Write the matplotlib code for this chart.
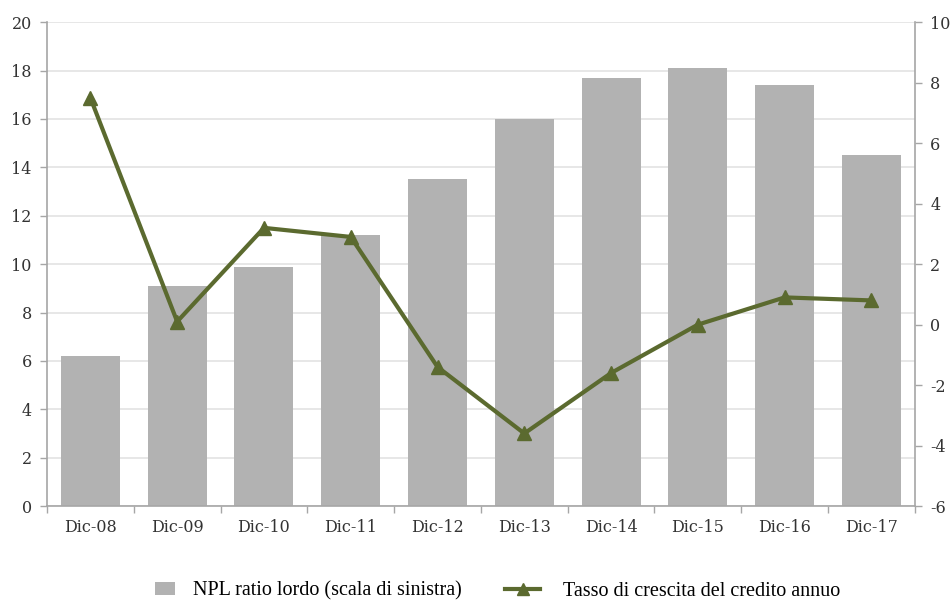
import numpy as np
import matplotlib.pyplot as plt
from matplotlib.lines import Line2D
from matplotlib.patches import Patch

plt.rcParams['axes.unicode_minus'] = False

years = ['Dic-08', 'Dic-09', 'Dic-10', 'Dic-11', 'Dic-12',
         'Dic-13', 'Dic-14', 'Dic-15', 'Dic-16', 'Dic-17']
npl_ratio = [6.2, 9.1, 9.9, 11.2, 13.5, 16.0, 17.7, 18.1, 17.4, 14.5]
credit_growth = [7.5, 0.1, 3.2, 2.9, -1.4, -3.6, -1.6, 0.0, 0.9, 0.8]

bar_color = '#b2b2b2'
line_color = '#5b6a2f'
axis_color = '#a6a6a6'
text_color = '#333333'
tick_font = 'DejaVu Serif'

fig = plt.figure(figsize=(9.51, 6.01), dpi=100)
ax = fig.add_axes([0.0494, 0.158, 0.9126, 0.805])
x = np.arange(len(years))

ax.bar(x, npl_ratio, width=0.68, color=bar_color, zorder=2)
ax.set_xlim(-0.5, len(years) - 0.5)
ax.set_ylim(0, 20)
ax.set_yticks(range(0, 21, 2))
ax.yaxis.grid(True, color='#e3e3e3', linewidth=1.2, zorder=0)
ax.set_axisbelow(True)

# category labels centred, tick marks on the boundaries
ax.set_xticks(x)
ax.set_xticklabels(years)
ax.set_xticks(np.arange(len(years) + 1) - 0.5, minor=True)
ax.tick_params(axis='x', which='major', length=0, pad=9)
ax.tick_params(axis='x', which='minor', length=5, color=axis_color, width=1)
ax.tick_params(axis='y', length=5, color=axis_color, width=1, pad=6)

for side in ['top', 'right']:
    ax.spines[side].set_visible(False)
for side in ['left', 'bottom']:
    ax.spines[side].set_color(axis_color)
    ax.spines[side].set_linewidth(1.2)

ax2 = ax.twinx()
ax2.plot(x, credit_growth, color=line_color, linewidth=3, marker='^',
         markersize=10, zorder=3)
ax2.set_ylim(-6, 10)
ax2.set_yticks(range(-6, 11, 2))
ax2.tick_params(axis='y', length=5, color=axis_color, width=1, pad=6)
for side in ['top', 'left', 'bottom']:
    ax2.spines[side].set_visible(False)
ax2.spines['right'].set_color(axis_color)
ax2.spines['right'].set_linewidth(1.2)

for a in (ax, ax2):
    for lab in a.get_xticklabels() + a.get_yticklabels():
        lab.set_fontfamily(tick_font)
        lab.set_fontsize(11.5)
        lab.set_color(text_color)

legend_font = {'family': 'Liberation Serif', 'size': 14.5}
leg1 = fig.legend([Patch(facecolor=bar_color, edgecolor='none')],
                  ['NPL ratio lordo (scala di sinistra)'],
                  loc='center left', bbox_to_anchor=(155 / 951, 1 - 591 / 601),
                  frameon=False, handlelength=1.0, handleheight=0.6,
                  handletextpad=0.9, borderpad=0, borderaxespad=0, prop=legend_font)
leg2 = fig.legend([Line2D([], [], color=line_color, linewidth=3, marker='^', markersize=9)],
                  ['Tasso di crescita del credito annuo'],
                  loc='center left', bbox_to_anchor=(505 / 951, 1 - 591 / 601),
                  frameon=False, handlelength=1.75, handletextpad=1.15,
                  borderpad=0, borderaxespad=0, prop=legend_font)

fig.savefig('out.png', dpi=100)
